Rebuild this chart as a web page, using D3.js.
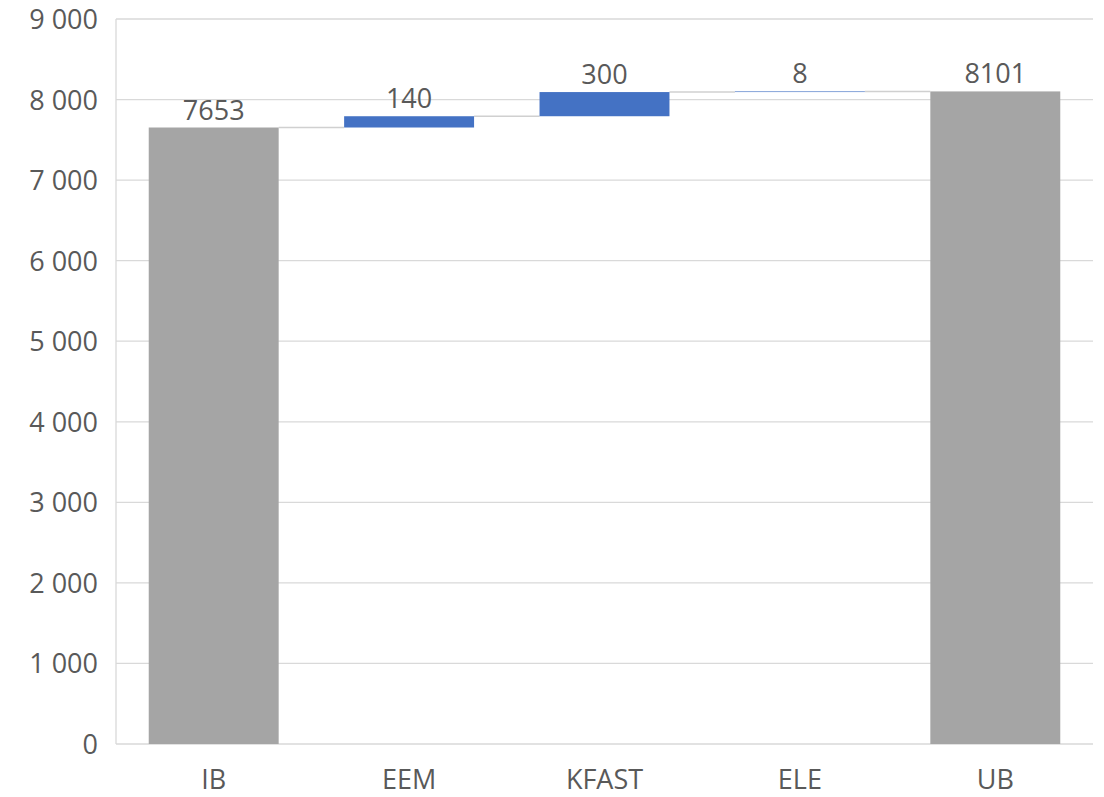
<!DOCTYPE html>
<html>
<head>
    <title>Waterfall</title>
    <script src="https://d3js.org/d3.v7.min.js"></script>
    <style>
        body { margin: 0; background: #fff; }
        text { font-family: "Open Sans", sans-serif; fill: #595959; }
    </style>
</head>
<body>
<script>
// Chart data
const categories = ["IB", "EEM", "KFAST", "ELE", "UB"];
const values = [7653, 140, 300, 8, 8101];
const isTotal = [true, false, false, false, true];
const yTicks = [0, 1000, 2000, 3000, 4000, 5000, 6000, 7000, 8000, 9000];

// Build start/end per bar
let running = 0;
const bars = categories.map((c, i) => {
    let start, end;
    if (isTotal[i]) { start = 0; end = values[i]; running = values[i]; }
    else { start = running; end = running + values[i]; running = end; }
    return {cat: c, value: values[i], start: start, end: end, total: isTotal[i]};
});

const margin = {top: 19, right: 11, bottom: 53, left: 116},
      W = 1104, H = 797,
      width = W - margin.left - margin.right,
      height = H - margin.top - margin.bottom;

const svg = d3.select("body").append("svg")
    .attr("width", W)
    .attr("height", H)
  .append("g")
    .attr("transform", `translate(${margin.left},${margin.top})`);

const x = d3.scaleBand()
    .domain(categories)
    .range([0, width])
    .paddingInner(0.335)
    .paddingOuter(0.1675);

const y = d3.scaleLinear()
    .domain([0, 9000])
    .range([height, 0]);

const locale = d3.formatLocale({decimal: ",", thousands: " ", grouping: [3], currency: ["", ""]});
const fmt = locale.format(",d");

// Gridlines
svg.append("g")
    .selectAll("line")
    .data(yTicks)
    .join("line")
    .attr("x1", 0)
    .attr("x2", width)
    .attr("y1", d => y(d))
    .attr("y2", d => y(d))
    .attr("stroke", "#d9d9d9")
    .attr("stroke-width", 1.3);

// Left axis line
svg.append("line")
    .attr("x1", 0).attr("x2", 0)
    .attr("y1", y(9000)).attr("y2", y(0))
    .attr("stroke", "#d9d9d9")
    .attr("stroke-width", 1.3);

// Y tick labels
svg.append("g")
    .selectAll("text")
    .data(yTicks)
    .join("text")
    .attr("x", -18)
    .attr("y", d => y(d) + 10)
    .attr("text-anchor", "end")
    .style("font-size", "27px")
    .text(d => fmt(d));

// Connectors
svg.append("g")
    .selectAll("line")
    .data(bars.slice(0, -1))
    .join("line")
    .attr("x1", (d, i) => x(d.cat) + x.bandwidth())
    .attr("x2", (d, i) => x(bars[i + 1].cat))
    .attr("y1", d => y(d.end))
    .attr("y2", d => y(d.end))
    .attr("stroke", "#d0d0d0")
    .attr("stroke-width", 1.5);

// Bars
svg.append("g")
    .selectAll("rect")
    .data(bars)
    .join("rect")
    .attr("x", d => x(d.cat))
    .attr("width", x.bandwidth())
    .attr("y", d => y(Math.max(d.start, d.end)))
    .attr("height", d => Math.abs(y(d.start) - y(d.end)))
    .attr("fill", d => d.total ? "#a5a5a5" : "#4472c4");

// Value labels
svg.append("g")
    .selectAll("text")
    .data(bars)
    .join("text")
    .attr("x", d => x(d.cat) + x.bandwidth() / 2)
    .attr("y", d => y(Math.max(d.start, d.end)) - 8)
    .attr("text-anchor", "middle")
    .style("font-size", "27px")
    .text(d => d.value);

// X labels
svg.append("g")
    .selectAll("text")
    .data(categories)
    .join("text")
    .attr("x", d => x(d) + x.bandwidth() / 2)
    .attr("y", height + 45)
    .attr("text-anchor", "middle")
    .style("font-size", "27px")
    .text(d => d);
</script>
</body>
</html>
